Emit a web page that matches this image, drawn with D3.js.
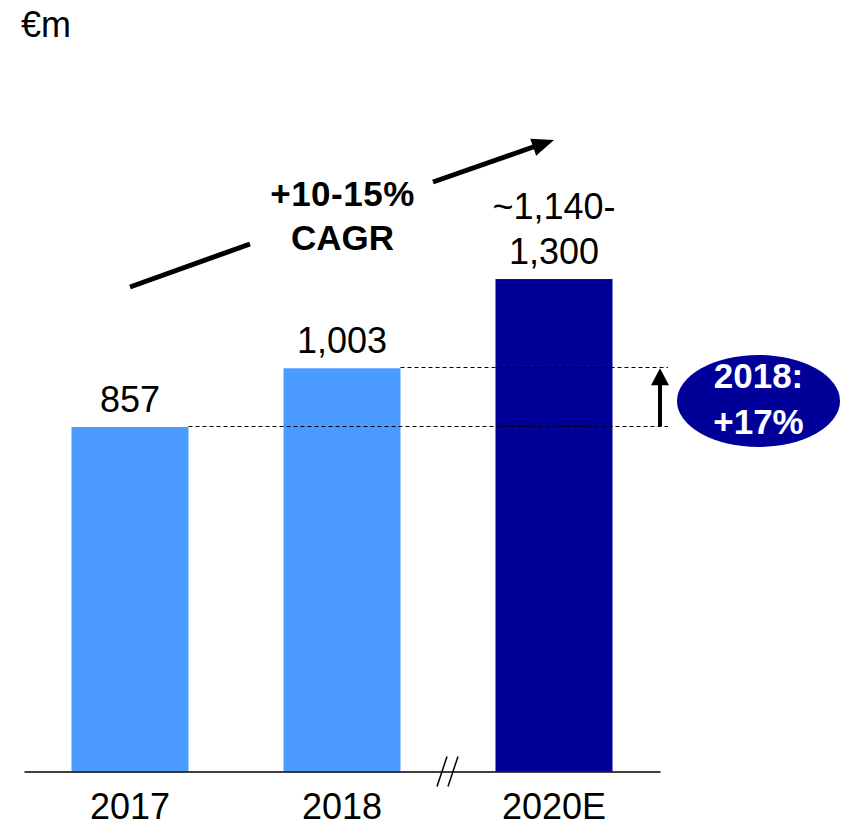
<!DOCTYPE html>
<html>
<head>
<meta charset="utf-8">
<script src="https://cdn.jsdelivr.net/npm/d3@7"></script>
<style>
  body { margin: 0; background: #fff; }
  svg { display: block; font-family: "Liberation Sans", Arial, sans-serif; }
</style>
</head>
<body>
<svg id="chart" width="851" height="826"></svg>
<script>
// chart data
const categories = ["2017", "2018", "2020E"];
const values = [857, 1003, 1225];
const valueLabels = [["857"], ["1,003"], ["~1,140-", "1,300"]];
const barColors = ["#4a9aff", "#4a9aff", "#000099"];
const unitLabel = "€m";
const cagrLines = ["+10-15%", "CAGR"];
const growthLines = ["2018:", "+17%"];

const svg = d3.select("#chart");

const baseline = 771.5;

const x = d3.scaleBand()
  .domain(categories)
  .range([24, 660])
  .paddingInner(0.448)
  .paddingOuter(0.224);

const y = d3.scaleLinear()
  .domain([0, 1000])
  .range([baseline, baseline - 402]);

const data = categories.map((c, i) => ({
  cat: c,
  value: values[i],
  label: valueLabels[i],
  color: barColors[i]
}));

// unit
svg.append("text")
  .attr("x", 21)
  .attr("y", 37)
  .attr("font-size", 36)
  .text(unitLabel);

// bars
svg.append("g")
  .selectAll("rect")
  .data(data)
  .join("rect")
  .attr("x", d => x(d.cat))
  .attr("y", d => y(d.value))
  .attr("width", x.bandwidth())
  .attr("height", d => baseline - y(d.value))
  .attr("fill", d => d.color);

// value labels
svg.append("g")
  .selectAll("text")
  .data(data)
  .join("text")
  .attr("text-anchor", "middle")
  .attr("font-size", 36)
  .attr("x", d => x(d.cat) + x.bandwidth() / 2)
  .attr("y", d => y(d.value) - 15)
  .call(t => t.selectAll("tspan")
    .data(d => d.label.map((s, i, arr) => ({ s, k: arr.length - 1 - i })))
    .join("tspan")
    .attr("x", function () { return this.parentNode.getAttribute("x"); })
    .attr("dy", (d, i) => i === 0 ? -d.k * 45 : 45)
    .text(d => d.s));

// x axis
const axisG = svg.append("g")
  .attr("transform", `translate(0,${baseline})`)
  .call(d3.axisBottom(x).tickSize(0).tickPadding(22).tickSizeOuter(0));
axisG.select(".domain").attr("stroke", "#000").attr("stroke-width", 1.5);
axisG.selectAll(".tick text")
  .attr("font-size", 36)
  .attr("font-family", "Liberation Sans, Arial, sans-serif")
  .attr("fill", "#000")
  .attr("dy", "0.71em");

// axis break marks between 2018 and 2020E
const breakX = (x("2018") + x.bandwidth() + x("2020E")) / 2;
svg.append("g")
  .selectAll("line")
  .data([-6, 5])
  .join("line")
  .attr("x1", d => breakX + d - 5)
  .attr("y1", baseline + 15)
  .attr("x2", d => breakX + d + 5)
  .attr("y2", baseline - 15)
  .attr("stroke", "#000")
  .attr("stroke-width", 1.5);

// dashed reference lines
const refEnd = 668;
svg.append("g")
  .selectAll("line")
  .data(data.slice(0, 2))
  .join("line")
  .attr("x1", d => x(d.cat) + x.bandwidth())
  .attr("x2", refEnd)
  .attr("y1", d => Math.round(y(d.value)) - 0.5)
  .attr("y2", d => Math.round(y(d.value)) - 0.5)
  .attr("stroke", "#000")
  .attr("stroke-width", 1)
  .attr("stroke-dasharray", "4,3");

// growth arrow
const arrowX = 660;
svg.append("line")
  .attr("x1", arrowX)
  .attr("x2", arrowX)
  .attr("y1", y(values[0]) - 1)
  .attr("y2", y(values[1]) + 14)
  .attr("stroke", "#000")
  .attr("stroke-width", 4);
svg.append("path")
  .attr("d", `M${arrowX},${y(values[1])}L${arrowX + 9},${y(values[1]) + 17}L${arrowX - 9},${y(values[1]) + 17}Z`)
  .attr("fill", "#000");

// growth bubble
const ell = { cx: 758.5, cy: 401, rx: 81.5, ry: 46 };
svg.append("ellipse")
  .attr("cx", ell.cx)
  .attr("cy", ell.cy)
  .attr("rx", ell.rx)
  .attr("ry", ell.ry)
  .attr("fill", "#000099");
svg.append("text")
  .attr("text-anchor", "middle")
  .attr("font-size", 35)
  .attr("font-weight", "bold")
  .attr("fill", "#fff")
  .selectAll("tspan")
  .data(growthLines)
  .join("tspan")
  .attr("x", ell.cx)
  .attr("y", (d, i) => 388 + i * 46)
  .text(d => d);

// CAGR arrow
const seg1 = [[130, 287], [250, 244]];
const seg2 = [[433, 182], [536, 146]];
const tip = [554, 140];
[seg1, seg2].forEach(s => {
  svg.append("line")
    .attr("x1", s[0][0]).attr("y1", s[0][1])
    .attr("x2", s[1][0]).attr("y2", s[1][1])
    .attr("stroke", "#000")
    .attr("stroke-width", 5);
});
{
  const ang = Math.atan2(tip[1] - seg2[0][1], tip[0] - seg2[0][0]);
  const len = 22, hw = 9;
  const bx = tip[0] - len * Math.cos(ang), by = tip[1] - len * Math.sin(ang);
  const px = -Math.sin(ang) * hw, py = Math.cos(ang) * hw;
  svg.append("path")
    .attr("d", `M${tip[0]},${tip[1]}L${bx + px},${by + py}L${bx - px},${by - py}Z`)
    .attr("fill", "#000");
}

svg.append("text")
  .attr("text-anchor", "middle")
  .attr("font-size", 35)
  .attr("font-weight", "bold")
  .selectAll("tspan")
  .data(cagrLines)
  .join("tspan")
  .attr("x", 342.5)
  .attr("y", (d, i) => 206 + i * 44)
  .attr("letter-spacing", (d, i) => i === 0 ? 0.5 : 0)
  .text(d => d);
</script>
</body>
</html>
